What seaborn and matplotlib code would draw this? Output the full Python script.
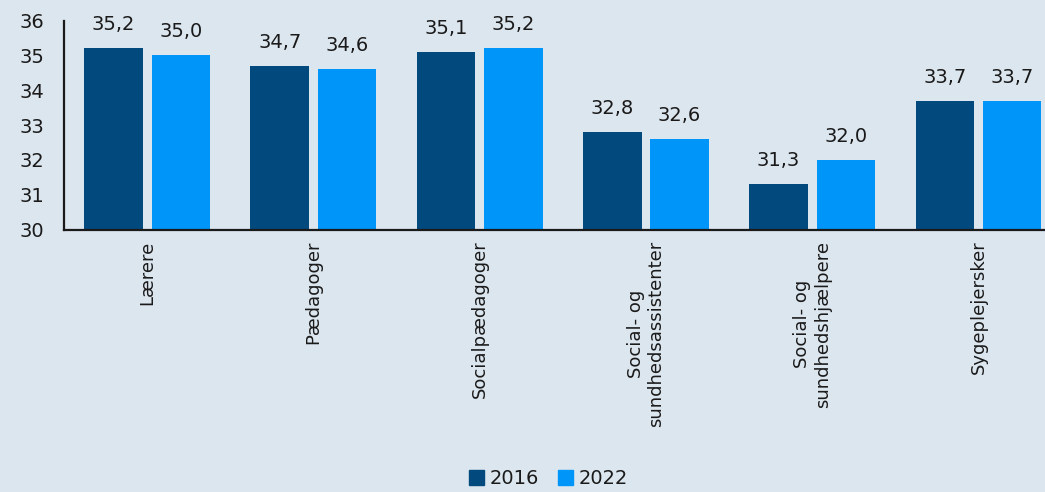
import matplotlib
matplotlib.use("Agg")
import matplotlib.pyplot as plt
import pandas as pd
import seaborn as sns

categories = ["Lærere", "Pædagoger", "Socialpædagoger",
              "Social- og\nsundhedsassistenter", "Social- og\nsundhedshjælpere",
              "Sygeplejersker"]
values_2016 = [35.2, 34.7, 35.1, 32.8, 31.3, 33.7]
values_2022 = [35.0, 34.6, 35.2, 32.6, 32.0, 33.7]
years = ["2016", "2022"]
y_ticks = [30, 31, 32, 33, 34, 35, 36]

bg = "#dce6ef"
navy = "#02497d"
bright = "#0095f8"
ink = "#1a1a1a"

sns.set_theme(style="white")
plt.rcParams["font.family"] = ["DejaVu Sans"]

df = pd.DataFrame({
    "kategori": categories * 2,
    "år": [years[0]] * len(categories) + [years[1]] * len(categories),
    "værdi": values_2016 + values_2022,
})

fig = plt.figure(figsize=(10.45, 4.92), dpi=100, facecolor=bg)
ax = fig.add_axes([64 / 1045, 1 - 229.5 / 492, (1045 - 64) / 1045, 209 / 492])
ax.set_facecolor(bg)

sns.barplot(data=df, x="kategori", y="værdi", hue="år", order=categories,
            hue_order=years, palette=[navy, bright], width=0.81, gap=0.13,
            saturation=1, ax=ax, legend=False, errorbar=None, linewidth=0)

ax.set_ylim(30, 36)
ax.set_xlim(-0.5, 5.4)
ax.set_yticks(y_ticks)
ax.set_xlabel("")
ax.set_ylabel("")

for cont in ax.containers:
    labels = [f"{b.get_height():.1f}".replace(".", ",") for b in cont]
    ax.bar_label(cont, labels=labels, padding=10, fontsize=14, color=ink, clip_on=False)

for side in ["top", "right"]:
    ax.spines[side].set_visible(False)
for side in ["left", "bottom"]:
    ax.spines[side].set_color(ink)
    ax.spines[side].set_linewidth(1.6)

ax.tick_params(axis="y", direction="in", length=5, width=1.2, color=ink,
               labelsize=14, labelcolor=ink, pad=14)
ax.tick_params(axis="x", length=0, labelsize=13, labelcolor=ink, pad=8, rotation=90)

handles = [plt.Rectangle((0, 0), 1, 1, color=c) for c in (navy, bright)]
fig.legend(handles, years, loc="lower center", bbox_to_anchor=(0.525, -0.028),
           ncol=2, frameon=False, fontsize=14, handlelength=0.75, handleheight=0.75,
           handletextpad=0.3, columnspacing=1.0, labelcolor=ink)

fig.savefig("out.png", dpi=100, facecolor=bg)
